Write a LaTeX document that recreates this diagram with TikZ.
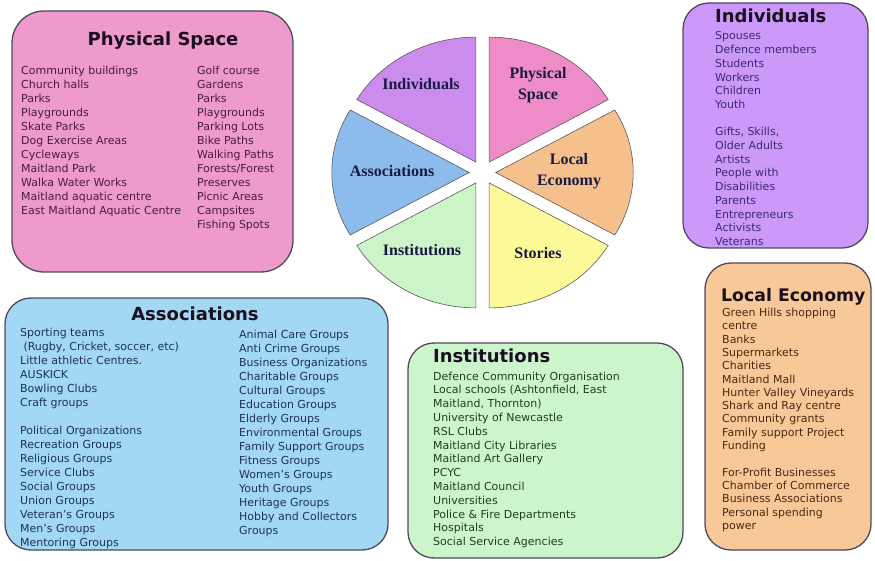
\documentclass[tikz,border=0pt]{standalone}
\usepackage{fontspec}
\setmainfont{DejaVu Sans}
\newfontfamily\piefont{Liberation Serif}
\definecolor{boxline}{HTML}{4E4A5A}
\definecolor{physbox}{HTML}{EE9ACC}
\definecolor{indbox}{HTML}{CC99FA}
\definecolor{assbox}{HTML}{A2D8F4}
\definecolor{insbox}{HTML}{CDF5CB}
\definecolor{lebox}{HTML}{F8C898}
\definecolor{pspie}{HTML}{EE8CC8}
\definecolor{idpie}{HTML}{CC8CEE}
\definecolor{aspie}{HTML}{8CBCEC}
\definecolor{inpie}{HTML}{CCF4C8}
\definecolor{stpie}{HTML}{FCFA98}
\definecolor{lepie}{HTML}{F6C08C}
\definecolor{phystext}{HTML}{4A1A48}
\definecolor{indtext}{HTML}{3A2A70}
\definecolor{asstext}{HTML}{1F3350}
\definecolor{instext}{HTML}{1F4020}
\definecolor{letext}{HTML}{4A2A10}
\definecolor{ttltext}{HTML}{1A1020}
\definecolor{pietext}{HTML}{1A1A40}
\begin{document}
\begin{tikzpicture}[x=1pt,y=-1pt,
  box/.style={draw=boxline, line width=1.3pt, rounded corners=26pt, inner sep=0pt},
  ttl/.style={inner sep=0pt, text=ttltext, font=\fontsize{18}{20}\selectfont\bfseries},
  items/.style={inner sep=0pt, anchor=base west, align=left},
  sector/.style={draw=gray!70!black, line width=0.6pt},
  pielbl/.style={inner sep=0pt, text=pietext, align=center, font=\piefont\fontsize{16}{21.5}\selectfont\bfseries}]
\useasboundingbox (0,0) rectangle (875,561);
% boxes
\node[box, fill=physbox, minimum width=281pt, minimum height=261pt, rounded corners=32pt] (phys) at (152.5,141.5) {};
\node[box, fill=indbox, minimum width=185pt, minimum height=245pt] (ind) at (775.5,125.5) {};
\node[box, fill=assbox, minimum width=383pt, minimum height=252pt] (ass) at (196.5,424) {};
\node[box, fill=insbox, minimum width=275pt, minimum height=215pt] (ins) at (545.5,450.5) {};
\node[box, fill=lebox, minimum width=166pt, minimum height=287pt] (le) at (788,406.5) {};
% titles
\node[ttl, anchor=base] (physt) at (163,46) {Physical Space};
\node[ttl, anchor=base west] (indt) at (715,22.7) {Individuals};
\node[ttl, anchor=base] (asst) at (195,320) {Associations};
\node[ttl, anchor=base west] (inst) at (433,362.7) {Institutions};
\node[ttl, anchor=base west, font=\fontsize{17.3}{20}\selectfont\bfseries] (let) at (721,301.7) {Local Economy};
% items (anchored at the baseline of the last line)
\node[items, text=phystext, font=\fontsize{11}{14}\selectfont] (physl) at (21,215) {Community buildings\\Church halls\\Parks\\Playgrounds\\Skate Parks\\Dog Exercise Areas\\Cycleways\\Maitland Park\\Walka Water Works\\Maitland aquatic centre\\East Maitland Aquatic Centre};
\node[items, text=phystext, font=\fontsize{11}{14}\selectfont] (physr) at (197,229) {Golf course\\Gardens\\Parks\\Playgrounds\\Parking Lots\\Bike Paths\\Walking Paths\\Forests/Forest\\Preserves\\Picnic Areas\\Campsites\\Fishing Spots};
\node[items, text=indtext, font=\fontsize{11}{13.7}\selectfont] (indl) at (715,245.5) {Spouses\\Defence members\\Students\\Workers\\Children\\Youth\\[13.7pt]Gifts, Skills,\\Older Adults\\Artists\\People with\\Disabilities\\Parents\\Entrepreneurs\\Activists\\Veterans};
\node[items, text=asstext, font=\fontsize{11}{14}\selectfont] (assl) at (20,546) {Sporting teams\\\hspace{0.3em}(Rugby, Cricket, soccer, etc)\\Little athletic Centres.\\AUSKICK\\Bowling Clubs\\Craft groups\\[14pt]Political Organizations\\Recreation Groups\\Religious Groups\\Service Clubs\\Social Groups\\Union Groups\\Veteran's Groups\\Men's Groups\\Mentoring Groups};
\node[items, text=asstext, font=\fontsize{11}{14}\selectfont] (assr) at (239,534) {Animal Care Groups\\Anti Crime Groups\\Business Organizations\\Charitable Groups\\Cultural Groups\\Education Groups\\Elderly Groups\\Environmental Groups\\Family Support Groups\\Fitness Groups\\Women's Groups\\Youth Groups\\Heritage Groups\\Hobby and Collectors\\Groups};
\node[items, text=instext, font=\fontsize{11}{13.8}\selectfont] (insl) at (433,545.6) {Defence Community Organisation\\Local schools (Ashtonfield, East\\Maitland, Thornton)\\University of Newcastle\\RSL Clubs\\Maitland City Libraries\\Maitland Art Gallery\\PCYC\\Maitland Council\\Universities\\Police \& Fire Departments\\Hospitals\\Social Service Agencies};
\node[items, text=letext, font=\fontsize{11}{13.3}\selectfont] (lel) at (722,529.3) {Green Hills shopping\\centre\\Banks\\Supermarkets\\Charities\\Maitland Mall\\Hunter Valley Vineyards\\Shark and Ray centre\\Community grants\\Family support Project\\Funding\\[13.3pt]For-Profit Businesses\\Chamber of Commerce\\Business Associations\\Personal spending\\power};
% pie
\begin{scope}[shift={(482.5,172.5)}, xscale=1.1]
\foreach \a/\c in {60/pspie, 0/lepie, -60/stpie, -120/inpie, 180/aspie, 120/idpie}
  \draw[sector, fill=\c, shift={(\a:12pt)}] (0pt,0pt) -- (\a-30:125pt) arc[start angle=\a-30, end angle=\a+30, radius=125pt] -- cycle;
\end{scope}
\node[pielbl] (pind) at (421,84) {Individuals};
\node[pielbl] (pphys) at (538,85) {Physical\\Space};
\node[pielbl] (pass) at (392,171) {Associations};
\node[pielbl] (ple) at (569,171) {Local\\Economy};
\node[pielbl] (pins) at (422,250) {Institutions};
\node[pielbl] (psto) at (538,253) {Stories};
\end{tikzpicture}
\end{document}
